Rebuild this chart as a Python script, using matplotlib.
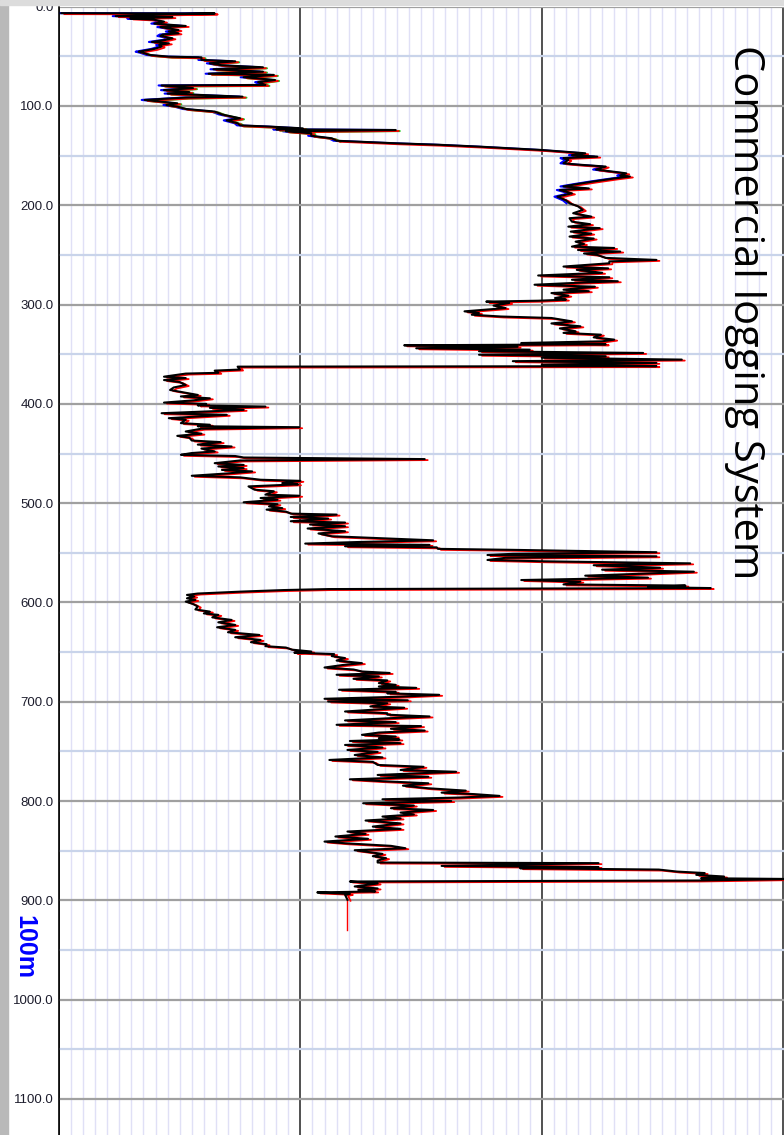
import numpy as np
import matplotlib
matplotlib.use("Agg")
import matplotlib.pyplot as plt
import matplotlib.transforms as mtransforms
from matplotlib.ticker import MultipleLocator, FormatStrFormatter
from matplotlib.patches import Rectangle

depth_m = [
    6.5, 6.8, 8.0, 9.5, 10.5, 11.8, 13.0, 15.0, 17.0, 19.4, 20.5, 23.5, 25.0, 26.8, 28.0, 29.5,
    31.8, 33.5, 35.5, 36.9, 38.5, 40.2, 42.5, 45.3, 46.5, 48.6, 50.3, 51.0, 53.6, 55.0, 57.0, 59.0,
    61.0, 63.0, 65.4, 67.5, 68.7, 71.0, 73.8, 76.0, 78.8, 79.3, 82.0, 84.0, 86.0, 87.5, 90.6, 91.5,
    93.9, 95.5, 97.3, 99.0, 100.6, 103.0, 105.6, 108.5, 112.4, 114.5, 117.4, 119.5, 120.7, 122.5,
    123.5, 124.2, 125.5, 127.5, 130.0, 132.5, 135.0, 137.6, 139.0, 140.9, 144.3, 147.6, 149.5,
    151.0, 152.5, 154.3, 157.7, 159.0, 161.0, 164.0, 167.8, 170.0, 171.0, 173.0, 176.0, 178.5,
    181.0, 183.0, 184.6, 188.0, 191.3, 195.0, 198.0, 201.0, 204.7, 208.0, 211.4, 213.0, 216.5,
    219.0, 221.5, 223.0, 226.5, 228.5, 231.5, 233.5, 236.6, 239.0, 241.6, 243.0, 245.0, 246.6,
    248.5, 250.0, 253.0, 255.0, 256.5, 258.4, 261.7, 263.5, 265.0, 268.0, 270.7, 272.5, 275.0,
    276.5, 278.0, 280.0, 282.0, 285.0, 286.5, 288.4, 291.0, 293.4, 295.0, 296.1, 297.0, 298.4,
    301.0, 303.5, 305.0, 306.8, 308.5, 310.2, 312.0, 313.5, 316.9, 319.0, 321.9, 324.0, 326.9,
    328.5, 330.3, 333.0, 335.3, 337.0, 338.7, 340.0, 341.0, 342.5, 344.0, 345.4, 347.0, 348.7,
    350.5, 352.0, 353.5, 355.4, 357.0, 358.7, 360.5, 362.0, 362.5, 365.4, 366.5, 368.7, 369.5,
    372.6, 374.0, 376.0, 378.0, 381.0, 383.5, 386.0, 388.0, 391.0, 392.5, 394.4, 396.5, 398.7,
    400.0, 401.5, 402.7, 404.0, 406.0, 407.5, 409.4, 411.0, 414.4, 416.0, 419.4, 421.0, 422.5,
    423.5, 425.0, 427.8, 430.0, 432.2, 434.0, 436.9, 438.5, 441.0, 442.9, 445.0, 447.9, 449.5,
    451.3, 452.5, 454.0, 455.6, 457.0, 459.7, 461.5, 463.0, 464.7, 466.5, 468.0, 470.0, 472.4,
    474.0, 476.4, 477.5, 479.7, 481.0, 483.1, 486.4, 488.0, 491.4, 492.5, 494.8, 496.5, 499.1,
    501.0, 503.2, 505.0, 506.5, 508.5, 510.5, 511.5, 513.9, 515.5, 518.2, 519.5, 521.5, 523.2,
    525.5, 528.3, 530.5, 533.3, 535.0, 537.4, 539.0, 540.7, 542.0, 543.4, 544.5, 546.0, 547.0,
    549.4, 551.0, 552.2, 553.5, 555.0, 557.2, 558.5, 560.6, 562.5, 565.0, 567.0, 569.0, 571.0,
    573.0, 575.0, 577.4, 579.0, 581.8, 583.0, 584.5, 585.5, 586.5, 587.5, 589.0, 591.0, 592.4,
    594.0, 595.8, 597.5, 599.1, 601.5, 604.1, 607.0, 609.2, 611.0, 612.5, 615.0, 617.6, 620.0,
    622.6, 625.0, 627.6, 630.0, 632.7, 635.0, 637.7, 640.0, 642.0, 644.0, 645.4, 647.5, 649.4,
    650.5, 652.0, 654.0, 656.0, 658.5, 661.1, 663.0, 665.5, 667.5, 669.5, 671.0, 672.8, 674.5,
    676.9, 678.5, 681.2, 683.0, 684.6, 686.0, 687.9, 690.0, 691.5, 693.0, 695.0, 697.0, 698.5,
    699.7, 701.5, 704.7, 706.0, 709.8, 711.5, 713.0, 714.8, 716.5, 718.8, 720.5, 723.2, 724.5,
    727.2, 729.0, 731.0, 733.3, 735.0, 736.6, 738.0, 739.5, 741.7, 743.5, 746.0, 748.5, 750.5,
    753.6, 756.0, 758.6, 760.5, 763.6, 765.5, 768.7, 770.5, 773.7, 775.5, 778.1, 780.0, 782.1,
    784.5, 787.1, 789.5, 791.5, 793.0, 794.8, 796.5, 798.2, 800.0, 802.2, 804.5, 807.2, 809.0,
    811.6, 813.5, 815.6, 817.5, 819.6, 822.5, 825.7, 828.0, 830.7, 833.0, 835.7, 838.0, 840.8,
    842.5, 845.1, 847.5, 849.5, 853.2, 855.5, 857.5, 860.0, 861.9, 862.5, 865.3, 866.5, 867.6,
    869.0, 871.0, 872.5, 874.3, 876.0, 877.7, 878.5, 880.0, 881.0, 883.0, 886.0, 888.0, 889.4,
    891.0, 892.0, 893.5, 894.4, 899.4,
]
log_value = [
    0.2, 12.9, 8.0, 4.7, 9.4, 5.9, 7.8, 8.7, 7.9, 10.5, 8.4, 9.9, 9.1, 9.9, 8.6, 8.4,
    9.4, 8.8, 7.7, 9.1, 8.3, 8.5, 7.9, 6.6, 7.0, 7.5, 9.1, 11.8, 11.8, 14.6, 12.5, 13.5,
    16.9, 12.8, 16.9, 12.4, 17.8, 15.3, 17.9, 16.5, 17.1, 8.5, 11.1, 8.7, 10.8, 9.0, 15.2, 10.5,
    7.1, 8.4, 9.8, 8.9, 9.8, 10.5, 12.9, 13.5, 15.0, 13.9, 14.8, 15.0, 17.4, 20.2,
    18.0, 27.9, 18.8, 20.9, 20.9, 22.6, 23.0, 28.0, 31.4, 34.8, 40.0, 43.6, 42.5,
    44.6, 41.8, 42.2, 41.8, 43.0, 45.3, 44.5, 47.0, 46.5, 47.3, 46.0, 44.3, 43.0,
    41.8, 43.9, 41.5, 42.5, 41.3, 42.0, 42.3, 43.0, 43.4, 42.6, 44.1, 42.3, 42.5,
    44.0, 42.2, 44.8, 42.4, 44.1, 42.3, 44.3, 42.8, 43.5, 42.5, 46.0, 43.0, 46.5,
    43.5, 44.6, 45.3, 49.5, 45.6, 45.6, 41.8, 45.5, 42.9, 45.0, 39.7, 45.6, 42.5,
    46.3, 43.0, 39.4, 44.4, 41.8, 43.9, 40.8, 42.2, 41.1, 42.0, 39.7, 35.4, 37.3,
    36.0, 37.0, 35.5, 33.6, 34.8, 34.2, 36.6, 40.8, 42.5, 40.8, 43.2, 41.5, 42.8,
    41.8, 44.9, 44.3, 46.0, 45.0, 38.3, 45.3, 28.6, 38.0, 29.6, 39.0, 34.8, 48.4,
    34.8, 45.3, 40.0, 51.6, 37.6, 49.5, 40.0, 49.5, 14.8, 15.0, 12.9, 13.2, 10.5,
    8.7, 10.5, 8.7, 10.0, 10.5, 9.5, 9.2, 10.1, 11.5, 10.1, 12.5, 11.1, 8.7,
    12.2, 11.5, 17.1, 12.5, 15.3, 12.5, 8.5, 13.9, 9.1, 10.5, 10.1, 12.5, 11.5,
    19.9, 11.8, 10.5, 11.8, 9.8, 10.8, 11.0, 13.4, 11.5, 14.3, 11.8, 12.9, 11.0,
    10.1, 14.6, 15.3, 30.3, 15.0, 12.9, 15.3, 13.2, 15.3, 13.5, 16.0, 14.0, 11.0,
    15.0, 16.7, 20.0, 18.5, 19.8, 15.7, 16.2, 17.8, 17.1, 19.9, 16.7, 18.1, 15.3,
    18.1, 17.4, 18.5, 17.2, 18.8, 19.2, 23.0, 19.2, 22.3, 19.2, 23.7, 20.8, 23.7,
    20.6, 23.7, 21.5, 22.6, 26.1, 31.0, 25.1, 20.4, 30.7, 23.7, 31.3, 31.4, 37.6,
    49.5, 37.6, 35.5, 49.5, 37.0, 35.5, 40.0, 52.3, 44.3, 49.8, 45.0, 52.6, 48.4,
    43.6, 48.8, 38.3, 43.2, 41.8, 51.9, 48.8, 54.0, 22.3, 18.6, 15.2, 11.5, 10.6,
    11.2, 10.6, 11.3, 10.5, 11.1, 11.5, 11.3, 12.5, 12.0, 13.2, 12.7, 14.3, 13.2,
    14.6, 13.1, 14.6, 14.0, 16.6, 14.6, 16.7, 15.9, 17.2, 17.1, 18.8, 19.3, 20.9,
    19.5, 22.8, 22.6, 23.7, 23.0, 25.1, 23.5, 22.0, 24.4, 25.1, 27.4, 23.0, 26.5,
    24.4, 27.2, 26.5, 27.9, 26.5, 29.6, 23.2, 27.9, 27.2, 31.5, 28.0, 22.0, 28.9,
    22.3, 27.2, 25.8, 28.6, 23.7, 27.2, 27.2, 30.7, 27.5, 23.7, 27.9, 23.0, 30.0,
    27.5, 30.3, 26.5, 25.1, 27.9, 26.5, 28.2, 24.1, 28.3, 23.7, 26.8, 23.9, 26.4,
    24.5, 26.8, 22.4, 26.0, 26.4, 30.2, 28.3, 32.9, 26.4, 30.6, 24.1, 26.8, 30.6,
    28.5, 30.6, 33.7, 31.7, 34.4, 36.5, 33.0, 26.8, 32.5, 25.2, 29.4, 27.5, 31.0,
    28.3, 29.4, 26.8, 28.3, 25.4, 28.3, 26.0, 28.3, 23.9, 25.4, 22.9, 25.6, 22.0,
    23.7, 27.5, 28.7, 24.5, 26.8, 26.0, 27.1, 26.4, 26.4, 44.7, 31.7, 44.7, 38.2,
    49.7, 51.2, 53.5, 52.8, 55.1, 53.2, 61.0, 53.0, 24.1, 26.4, 24.5, 26.4, 24.8,
    26.2, 21.4, 24.1, 23.7, 23.9,
]
# red repeat curve continues below the black one
tail_depth = [899.4, 929.6]
tail_value = [23.9, 23.9]

d = np.array(depth_m)
v = np.array(log_value)

W, H = 784, 1135
fig = plt.figure(figsize=(W / 100, H / 100), dpi=100)
fig.patch.set_facecolor("white")
# window chrome: grey strip on the left and along the top
fig.patches.append(Rectangle((0, 0), 8 / W, 1, transform=fig.transFigure, color="#b9b9b9", zorder=0))
fig.patches.append(Rectangle((0, 1 - 5 / H), 1, 5 / H, transform=fig.transFigure, color="#dcdcdc", zorder=5))

ax = fig.add_axes([59 / W, 0, 725 / W, 1 - 6.7 / H])
ax.set_xlim(0, 60.07)
ax.set_ylim(1136.3, 0)

ax.xaxis.set_major_locator(MultipleLocator(20))
ax.xaxis.set_minor_locator(MultipleLocator(1))
ax.yaxis.set_major_locator(MultipleLocator(100))
ax.yaxis.set_minor_locator(MultipleLocator(50))
ax.yaxis.set_major_formatter(FormatStrFormatter("%.1f"))
ax.tick_params(axis="x", which="both", length=0, labelbottom=False)
ax.tick_params(axis="y", which="both", length=0, pad=4, labelsize=9.5, labelcolor="#1c1c2c")
for lab in ax.get_yticklabels():
    lab.set_family("Liberation Sans")

ax.grid(axis="x", which="minor", color="#e0e0f6", lw=1.0)
ax.grid(axis="y", which="minor", color="#c9d4ea", lw=1.6)
ax.grid(axis="y", which="major", color="#a0a0a0", lw=1.6)
ax.grid(axis="x", which="major", color="#222222", lw=1.1)
ax.set_axisbelow(True)
for s in ["top", "right", "bottom"]:
    ax.spines[s].set_visible(False)
ax.spines["left"].set_color("black")
ax.spines["left"].set_linewidth(1.2)

red_tr = mtransforms.offset_copy(ax.transData, fig=fig, x=3, y=-1, units="dots")
blue_tr = mtransforms.offset_copy(ax.transData, fig=fig, x=-3, y=0, units="dots")
green_tr = mtransforms.offset_copy(ax.transData, fig=fig, x=4, y=-1, units="dots")

top = d <= 200
mid = (d >= 45) & (d <= 135)
ax.plot(v[top], d[top], color="#0000ff", lw=1.5, transform=blue_tr, zorder=2)
ax.plot(v[mid], d[mid], color="#22cc22", lw=1.5, transform=green_tr, zorder=2)
ax.plot(v, d, color="#ff0000", lw=1.3, transform=red_tr, zorder=2)
ax.plot(tail_value, tail_depth, color="#ff0000", lw=1.0, zorder=2)
ax.plot(v, d, color="black", lw=1.5, zorder=3)

fig.text(24 / W, 1 - 947 / H, "100m", color="#0000ff", fontsize=18, fontweight="bold",
         family="Liberation Sans", rotation=270, ha="center", va="center")
fig.text(745 / W, 1 - 312 / H, "Commercial logging System", color="black", fontsize=30,
         family="Open Sans", rotation=270, ha="center", va="center")

fig.savefig("out.png", dpi=100)
